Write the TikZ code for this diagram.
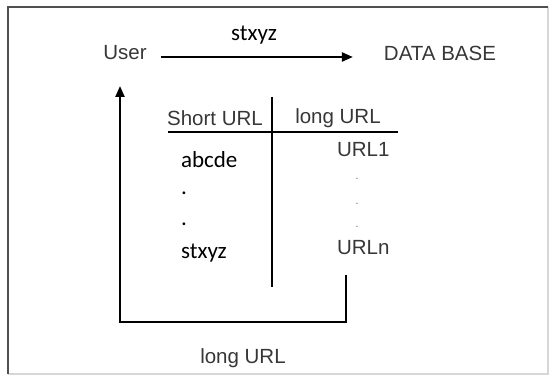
\documentclass[tikz,border=0pt]{standalone}
\usepackage{fontspec}
\setmainfont{Liberation Sans}
\newfontfamily\calfont{Carlito}
\usetikzlibrary{arrows.meta}
\definecolor{txtgray}{RGB}{55,55,55}
\definecolor{framedark}{RGB}{80,80,80}
\definecolor{framelight}{RGB}{215,215,215}
\tikzset{every picture/.style={line width=2.2pt}}
\tikzset{
  lbl/.style={inner sep=0pt, text=txtgray, font=\fontsize{20.5}{23}\selectfont},
  cal/.style={inner sep=0pt, text=black, font=\calfont\fontsize{23}{26}\selectfont},
  dotlbl/.style={inner sep=0pt, text=gray, font=\fontsize{12}{14}\selectfont},
  flow/.style={-{Triangle[length=11pt,width=9pt]}},
}

\begin{document}
\begin{tikzpicture}[x=1pt,y=1pt,yscale=-1]
\useasboundingbox (0,0) rectangle (555,379);
%Frame
\draw [framelight, line width=1.2pt] (548,7) -- (548,374) -- (8,374);
\draw [framedark, line width=2.2pt] (8,374) -- (8,7) -- (548,7);
%Text Nodes
\node [lbl] (user) at (125,53) {User};
\node [lbl] (db) at (440,53) {DATA BASE};
\node [cal] (sent) at (254,35) {stxyz};
\node [lbl] (shorthd) at (215,118) {Short URL};
\node [lbl] (longhd) at (338,118) {long URL};
\node [cal, anchor=west] (abcde) at (180,160) {abcde};
\node [cal, anchor=west] (ldot1) at (180,193) {.};
\node [cal, anchor=west] (ldot2) at (180,224) {.};
\node [cal, anchor=west] (stxyz) at (180,253) {stxyz};
\node [lbl, anchor=west] (url1) at (336,150) {URL1};
\node [dotlbl] (rdot1) at (357,179) {.};
\node [dotlbl] (rdot2) at (357,204) {.};
\node [dotlbl] (rdot3) at (357,227) {.};
\node [lbl, anchor=west] (urln) at (336,248) {URLn};
\node [lbl] (back) at (243,358) {long URL};
%Coordinates
\coordinate (colTop) at (272,97);
\coordinate (colBot) at (272,287);
\coordinate (rowL) at (168,132);
\coordinate (rowR) at (398,132);
\coordinate (retStart) at (346,275);
\coordinate (retEnd) at (120,86);
%Request arrow
\draw [flow] ([xshift=13pt,yshift=4pt]user.east) -- ([xshift=-30pt,yshift=4pt]db.west);
%Table lines
\draw (colTop) -- (colBot);
\draw (rowL) -- (rowR);
%Return path
\draw [flow] (retStart) -- (346,322) -- (120,322) -- (retEnd);
\end{tikzpicture}
\end{document}
